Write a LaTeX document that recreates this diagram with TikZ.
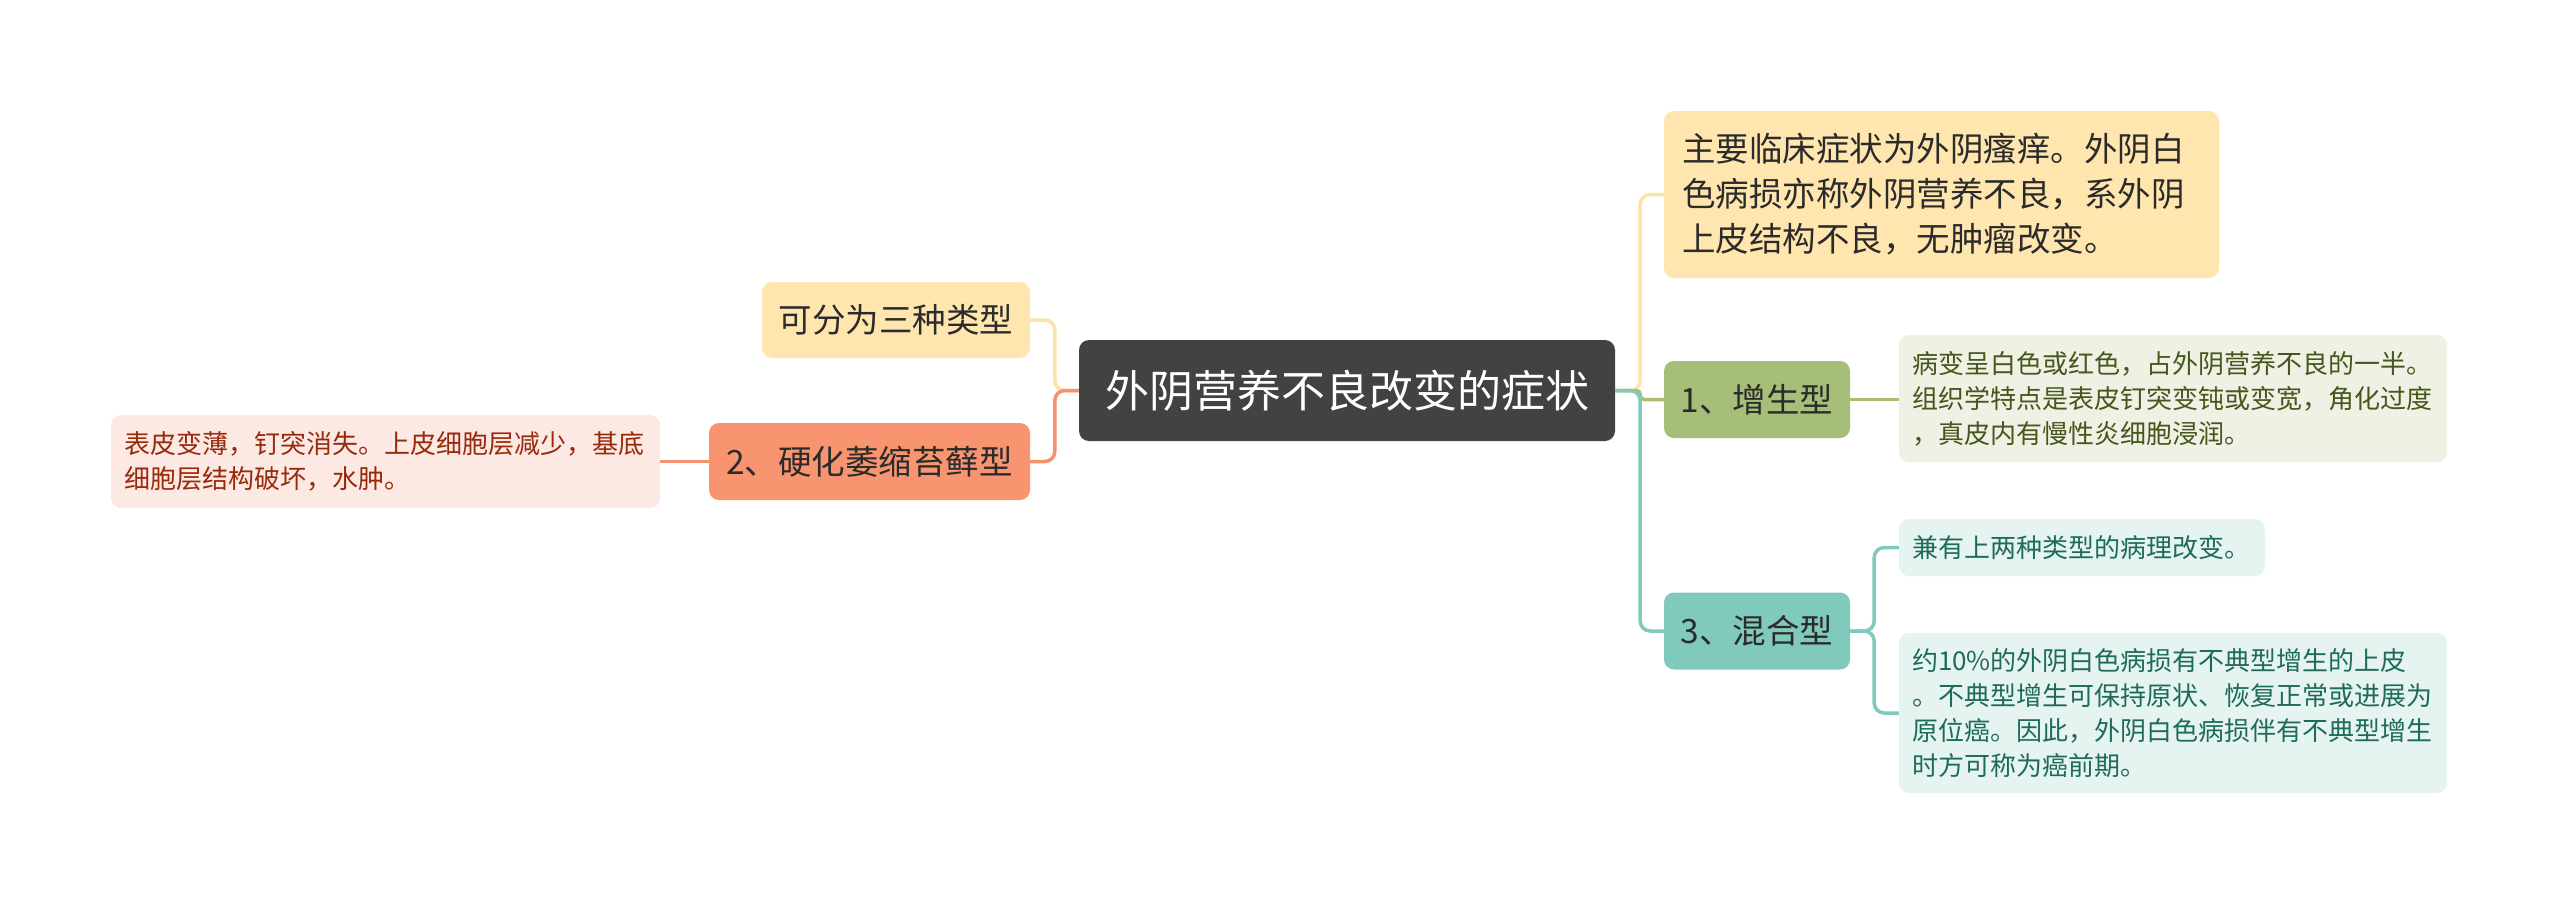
\documentclass[tikz,border=0pt]{standalone}
\usepackage{fontspec}
\newfontfamily\cjk{Noto Sans CJK SC}
\definecolor{rootc}{HTML}{424242}
\definecolor{yfill}{HTML}{FEE6AE}
\definecolor{yline}{HTML}{FDE3A6}
\definecolor{gfill}{HTML}{A6BE78}
\definecolor{gdfill}{HTML}{EEF1E4}
\definecolor{gdtext}{HTML}{46561C}
\definecolor{tfill}{HTML}{80CABC}
\definecolor{tdfill}{HTML}{E6F4F1}
\definecolor{tdtext}{HTML}{1E6B58}
\definecolor{sfill}{HTML}{F8946F}
\definecolor{sline}{HTML}{F5916E}
\definecolor{pdfill}{HTML}{FDE9E4}
\definecolor{pdtext}{HTML}{982A0C}
\definecolor{maintext}{HTML}{2B2B2B}
\tikzset{
  box/.style={rectangle, rounded corners=10pt, inner sep=0pt, align=center},
  bigtxt/.style={font=\cjk\fontsize{33.5}{45}\selectfont, text=maintext},
  smalltxt/.style={font=\cjk\fontsize{26}{35}\selectfont},
  conn/.style={line width=3.5pt, rounded corners=10pt},
}
\begin{document}
\begin{tikzpicture}[x=1pt,y=-1pt]
\useasboundingbox[fill=white] (0,0) rectangle (2560,906);
% nodes
\node[box, fill=rootc, text=white, font=\cjk\fontsize{44}{50}\selectfont, minimum width=536pt, minimum height=101pt] (root) at (1347,390.5) {外阴营养不良改变的症状};
\node[box, bigtxt, fill=yfill, minimum width=555pt, minimum height=167pt, text width=519pt, align=left] (yt) at (1941.5,194.5) {主要临床症状为外阴瘙痒。外阴白\\色病损亦称外阴营养不良，系外阴\\上皮结构不良，无肿瘤改变。};
\node[box, bigtxt, fill=gfill, minimum width=186pt, minimum height=77pt] (n1) at (1757,399.5) {1、增生型};
\node[box, bigtxt, fill=tfill, minimum width=186pt, minimum height=77pt] (n3) at (1757,631) {3、混合型};
\node[box, smalltxt, fill=gdfill, text=gdtext, minimum width=548pt, minimum height=127pt, text width=522pt, align=left] (gd) at (2173,398.5) {病变呈白色或红色，占外阴营养不良的一半。\\组织学特点是表皮钉突变钝或变宽，角化过度\\，真皮内有慢性炎细胞浸润。};
\node[box, smalltxt, fill=tdfill, text=tdtext, minimum width=366pt, minimum height=57pt, text width=340pt, align=left] (td1) at (2082,547.5) {兼有上两种类型的病理改变。};
\node[box, smalltxt, fill=tdfill, text=tdtext, minimum width=548pt, minimum height=160pt, text width=522pt, align=left] (td2) at (2173,713) {约10\%的外阴白色病损有不典型增生的上皮\\。不典型增生可保持原状、恢复正常或进展为\\原位癌。因此，外阴白色病损伴有不典型增生\\时方可称为癌前期。};
\node[box, bigtxt, fill=yfill, minimum width=268pt, minimum height=76pt] (ly) at (896,320) {可分为三种类型};
\node[box, bigtxt, fill=sfill, minimum width=321pt, minimum height=77pt] (n2) at (869.5,461.5) {2、硬化萎缩苔藓型};
\node[box, smalltxt, fill=pdfill, text=pdtext, minimum width=549pt, minimum height=93pt, text width=523pt, align=left] (pd) at (385.5,461.5) {表皮变薄，钉突消失。上皮细胞层减少，基底\\细胞层结构破坏，水肿。};
% connectors right
\draw[conn, yline] (root.east) -- ++(25,0) |- (yt.west);
\draw[conn, gfill, rounded corners=4pt] (root.east) -- ++(25,0) |- (n1.west);
\draw[conn, tfill] (root.east) -- ++(25,0) |- (n3.west);
\draw[conn, gfill] (n1.east) -- (n1.east -| gd.west);
\draw[conn, tfill] (n3.east) -- ++(24,0) |- (td1.west);
\draw[conn, tfill] (n3.east) -- ++(24,0) |- (td2.west);
% connectors left
\draw[conn, yline] (root.west) -- ++(-24,0) |- (ly.east);
\draw[conn, sline] (root.west) -- ++(-24,0) |- (n2.east);
\draw[conn, sline] (n2.west) -- (n2.west -| pd.east);
\end{tikzpicture}
\end{document}
